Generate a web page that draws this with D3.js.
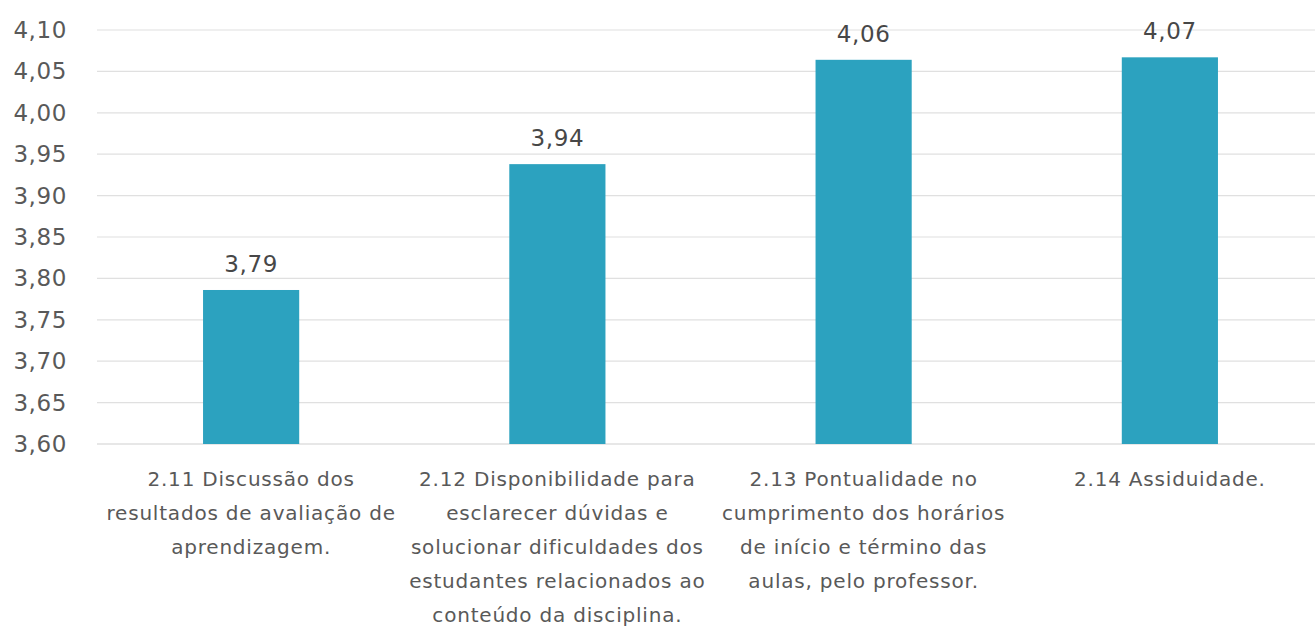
<!DOCTYPE html>
<html>
<head>
<meta charset="utf-8">
<script src="https://cdn.jsdelivr.net/npm/d3@7"></script>
<style>
  body { margin: 0; background: #fff; }
  svg { display: block; font-family: "DejaVu Sans", sans-serif; }
</style>
</head>
<body>
<svg id="chart" width="1315" height="627"></svg>
<script>
// categories, one entry per bar, already broken into lines as in the picture
const categories = [
  ["2.11 Discussão dos", "resultados de avaliação de", "aprendizagem."],
  ["2.12 Disponibilidade para", "esclarecer dúvidas e", "solucionar dificuldades dos", "estudantes relacionados ao", "conteúdo da disciplina."],
  ["2.13 Pontualidade no", "cumprimento dos horários", "de início e término das", "aulas, pelo professor."],
  ["2.14 Assiduidade."]
];
const values = [3.786, 3.938, 4.064, 4.067];
const yTicks = [3.60, 3.65, 3.70, 3.75, 3.80, 3.85, 3.90, 3.95, 4.00, 4.05, 4.10];

const svg = d3.select("#chart");
const fmt = v => d3.format(".2f")(v).replace(".", ",");

const x = d3.scaleBand()
  .domain(d3.range(categories.length))
  .range([98, 1323])
  .paddingInner(0.686)
  .paddingOuter(0.343);

const y = d3.scaleLinear().domain([3.6, 4.1]).range([444, 30]);

// gridlines
svg.append("g").selectAll("line").data(yTicks).join("line")
  .attr("x1", 97).attr("x2", 1315)
  .attr("y1", d => y(d)).attr("y2", d => y(d))
  .attr("stroke", d => d === 3.6 ? "#d0d0d0" : "#e0e0e0")
  .attr("stroke-width", 1.2);

// y tick labels
svg.append("g").selectAll("text").data(yTicks).join("text")
  .attr("x", 67).attr("y", d => y(d) + 8)
  .attr("text-anchor", "end")
  .attr("fill", "#595959")
  .style("font-size", "23px")
  .style("letter-spacing", "0.6px")
  .text(fmt);

// bars
svg.append("g").selectAll("rect").data(values).join("rect")
  .attr("x", (d, i) => x(i))
  .attr("width", x.bandwidth())
  .attr("y", d => y(d))
  .attr("height", d => y(3.6) - y(d))
  .attr("fill", "#2ca2bf");

// value labels
svg.append("g").selectAll("text").data(values).join("text")
  .attr("x", (d, i) => x(i) + x.bandwidth() / 2)
  .attr("y", d => y(d) - 18)
  .attr("text-anchor", "middle")
  .attr("fill", "#474747")
  .style("font-size", "23px")
  .style("letter-spacing", "0.6px")
  .text(fmt);

// category labels
const cat = svg.append("g").selectAll("text").data(categories).join("text")
  .attr("text-anchor", "middle")
  .attr("fill", "#595959")
  .style("font-size", "20px")
  .style("letter-spacing", "0.8px");
cat.selectAll("tspan").data((d, i) => d.map(t => ({ t, i }))).join("tspan")
  .attr("x", d => x(d.i) + x.bandwidth() / 2)
  .attr("y", (d, j) => 486 + j * 34)
  .text(d => d.t);
</script>
</body>
</html>
